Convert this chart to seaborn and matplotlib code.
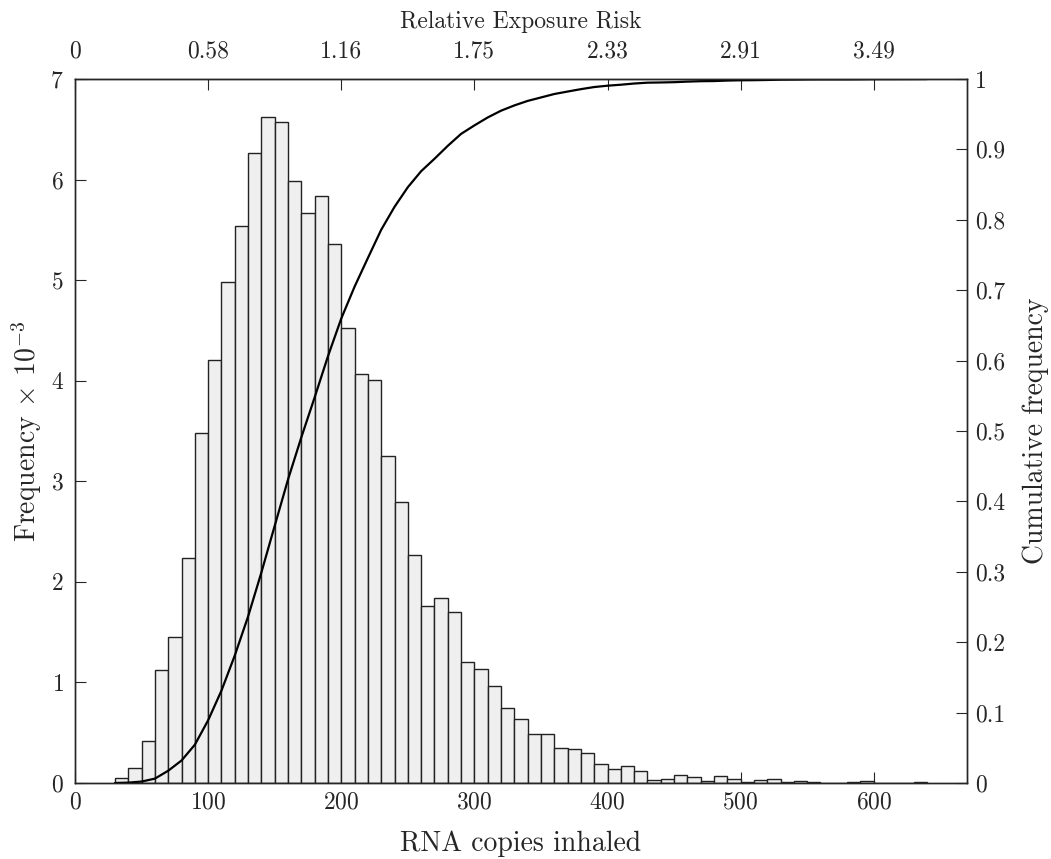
import numpy as np
import pandas as pd
import matplotlib
matplotlib.use('Agg')
import matplotlib.pyplot as plt
import seaborn as sns

# bin left edges (RNA copies), width 10
bin_lefts = list(range(30, 640, 10))
# frequency x 10^-3
freq = [0.05, 0.15, 0.42, 1.12, 1.45, 2.24, 3.48, 4.21, 4.98, 5.54,
        6.26, 6.62, 6.57, 5.99, 5.67, 5.84, 5.36, 4.52, 4.07, 4.01,
        3.25, 2.79, 2.27, 1.76, 1.84, 1.70, 1.20, 1.13, 0.96, 0.75,
        0.64, 0.49, 0.49, 0.35, 0.34, 0.30, 0.19, 0.14, 0.17, 0.12,
        0.03, 0.04, 0.08, 0.06, 0.02, 0.07, 0.04, 0.013, 0.03, 0.043,
        0.013, 0.02, 0.01, 0.0, 0.0, 0.01, 0.02, 0.003, 0.003, 0.003,
        0.01]
bin_width = 10

# top axis labels
risk_ticks = [0, 100, 200, 300, 400, 500, 600]
risk_labels = ['0', '0.58', '1.16', '1.75', '2.33', '2.91', '3.49']

sns.set_style('ticks')
plt.rcParams['font.family'] = ['cmr10', 'DejaVu Serif']
plt.rcParams['mathtext.fontset'] = 'cm'
plt.rcParams['axes.formatter.use_mathtext'] = True
plt.rcParams['font.size'] = 17
label_size = 20

df = pd.DataFrame({'left': bin_lefts, 'freq': freq})
df['center'] = df['left'] + bin_width / 2
edges = list(df['left']) + [df['left'].iloc[-1] + bin_width]

fig = plt.figure(figsize=(10.51, 8.59), dpi=100)
ax = fig.add_axes([0.0714, 0.0885, 0.8486, 0.8195])

sns.histplot(data=df, x='center', weights='freq', bins=edges, ax=ax,
             color='#efefef', edgecolor='#222222', linewidth=1.0, alpha=1)
ax.set_xlim(0, 670)
ax.set_ylim(0, 7)
ax.set_yticks(range(0, 8))
ax.set_xticks(range(0, 700, 100))
ax.set_xlabel('RNA copies inhaled', labelpad=12, fontsize=label_size)
ax.set_ylabel(r'Frequency $\times$ $10^{-3}$', labelpad=5, fontsize=label_size)
ax.tick_params(direction='in', length=8, width=0.8, labelsize=17)
ax.tick_params(axis='y', pad=8)
ax.tick_params(axis='x', pad=6)

# cumulative frequency from the histogram
cum = np.concatenate([[0], np.cumsum(df['freq'])])
cum = cum / cum[-1]
cdf = pd.DataFrame({'x': edges, 'cum': cum})
ax2 = ax.twinx()
sns.lineplot(data=cdf, x='x', y='cum', ax=ax2, color='black', linewidth=1.6)
ax2.set_ylim(0, 1)
ax2.set_yticks(np.arange(0, 1.01, 0.1))
ax2.set_yticklabels(['0'] + ['%.1f' % v for v in np.arange(0.1, 0.95, 0.1)] + ['1'])
ax2.set_ylabel('Cumulative frequency', labelpad=12, fontsize=label_size)
ax2.set_xlabel('')
ax2.tick_params(direction='in', length=8, width=0.8, labelsize=17, pad=6)

top = ax.secondary_xaxis('top')
top.set_xticks(risk_ticks)
top.set_xticklabels(risk_labels)
top.set_xlabel('Relative Exposure Risk', labelpad=9, fontsize=17)
top.tick_params(direction='in', length=8, width=0.8, labelsize=17, pad=12)

for a in (ax, ax2):
    for s in a.spines.values():
        s.set_linewidth(1.0)
        s.set_visible(True)

fig.savefig('out.png', dpi=100)
